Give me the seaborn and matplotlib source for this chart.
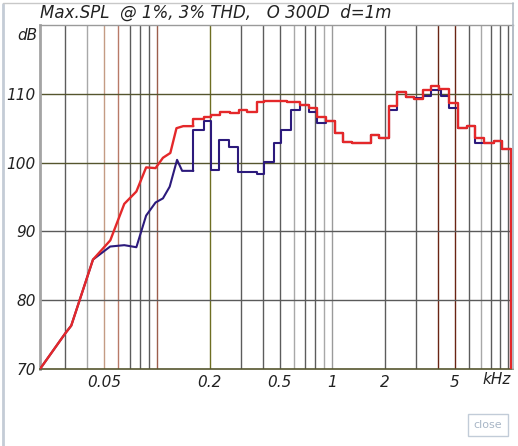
import matplotlib
matplotlib.use("Agg")
import matplotlib.pyplot as plt
import seaborn as sns
import pandas as pd

# --- data (frequency in kHz, level in dB) ---
# lower part is drawn as a polyline, upper part as 1/6-octave steps
red_lin_khz = [0.0215, 0.030, 0.0324, 0.0431, 0.0541, 0.065, 0.0762, 0.0866,
               0.098, 0.108, 0.119, 0.129, 0.141, 0.161]
red_lin_db = [70.0, 75.2, 76.3, 85.9, 88.7, 94.0, 95.8, 99.3,
              99.2, 100.7, 101.4, 105.0, 105.3, 105.3]

blue_lin_khz = [0.0215, 0.030, 0.0324, 0.0431, 0.054, 0.065, 0.0762, 0.0866,
                0.098, 0.108, 0.118, 0.130, 0.139, 0.161]
blue_lin_db = [70.0, 75.2, 76.3, 85.9, 87.8, 88.0, 87.7, 92.3,
               94.2, 94.8, 96.5, 100.4, 98.8, 98.8]

red_step_khz = [0.161, 0.185, 0.202, 0.228, 0.260, 0.293, 0.327, 0.369, 0.407,
                0.464, 0.553, 0.651, 0.735, 0.815, 0.916, 1.03, 1.15, 1.30,
                1.66, 1.84, 2.09, 2.33, 2.62, 2.93, 3.27, 3.65, 4.04, 4.64,
                5.18, 5.85, 6.51, 7.33, 8.32, 9.27, 10.37]
red_step_db = [106.4, 106.6, 106.9, 107.4, 107.2, 107.6, 107.4, 108.8, 109.0,
               108.9, 108.8, 108.4, 108.0, 106.6, 106.1, 104.3, 103.0, 102.8,
               104.0, 103.6, 108.2, 110.2, 109.6, 109.3, 110.6, 111.1, 110.7, 108.7,
               105.0, 105.3, 103.6, 102.9, 103.2, 102.0, 70.0]

blue_step_khz = [0.161, 0.184, 0.204, 0.225, 0.256, 0.290, 0.369, 0.407, 0.464,
                 0.511, 0.578, 0.651, 0.735, 0.815, 0.916, 1.03, 1.15, 1.30,
                 1.66, 1.84, 2.09, 2.33, 2.62, 2.93, 3.27, 3.65, 4.16, 4.64,
                 5.18, 5.85, 6.51, 7.33, 8.32, 9.27, 10.37]
blue_step_db = [104.8, 106.1, 98.9, 103.3, 102.2, 98.6, 98.3, 100.1, 102.8,
                104.7, 107.7, 108.3, 107.4, 105.8, 106.1, 104.3, 103.0, 102.8,
                104.0, 103.6, 107.6, 110.2, 109.6, 109.4, 109.7, 110.5, 109.7, 107.9,
                105.0, 105.3, 102.8, 102.9, 103.2, 102.0, 70.0]

grid_khz = [0.03, 0.04, 0.05, 0.06, 0.07, 0.08, 0.09, 0.1, 0.2, 0.3, 0.4, 0.5,
            0.6, 0.7, 0.8, 0.9, 1, 2, 3, 4, 5, 6, 7, 8, 9, 10]
grid_special = {0.04: "#a8a8a8", 0.05: "#c49c84", 0.06: "#b87a68", 0.1: "#9c5e4c",
                0.2: "#6e6e22", 0.6: "#a8a8a8", 0.9: "#a8a8a8", 1: "#9a9a9a",
                4: "#6a2414", 5: "#6a2414", 7: "#a8a8a8"}
xtick_khz = [0.05, 0.2, 0.5, 1, 2, 5]
xtick_labels = ["0.05", "0.2", "0.5", "1", "2", "5"]
ytick_db = [70, 80, 90, 100, 110]

title = "Max.SPL  @ 1%, 3% THD,   O 300D  d=1m"

RED = "#e4282a"
BLUE = "#2c1a7c"
TXT = "#222222"

sns.set_theme(style="white")
plt.rcParams["font.family"] = ["DejaVu Sans"]

fig = plt.figure(figsize=(5.18, 4.46), dpi=100)
ax = fig.add_axes([40 / 518, 1 - 369 / 446, 473 / 518, 344 / 446])
ax.set_xscale("log")
ax.set_xlim(0.0215, 10.7)
ax.set_ylim(70, 120)

# grid
for f in grid_khz:
    ax.axvline(f, color=grid_special.get(f, "#5c5c5c"), lw=1.0, zorder=1)
for d in [80, 90]:
    ax.axhline(d, color="#5a5a5a", lw=1.0, zorder=1)
for d in [100, 110]:
    ax.axhline(d, color="#55552e", lw=1.0, zorder=1)


def draw_curve(lin_f, lin_db, step_f, step_db, color, lw, z):
    lin = pd.DataFrame({"f": lin_f, "db": lin_db})
    sns.lineplot(data=lin, x="f", y="db", ax=ax, color=color, lw=lw,
                 estimator=None, sort=False, zorder=z)
    st = pd.DataFrame({"f": [lin_f[-1]] + step_f, "db": [lin_db[-1]] + step_db})
    sns.lineplot(data=st, x="f", y="db", ax=ax, color=color, lw=lw,
                 estimator=None, sort=False, drawstyle="steps-post", zorder=z)


draw_curve(blue_lin_khz, blue_lin_db, blue_step_khz, blue_step_db, BLUE, 1.5, 3)
draw_curve(red_lin_khz, red_lin_db, red_step_khz, red_step_db, RED, 1.7, 4)

# axes styling
ax.set_xlabel("")
ax.set_ylabel("")
ax.minorticks_off()
ax.set_xticks(xtick_khz)
ax.set_xticklabels(xtick_labels)
ax.set_yticks(ytick_db)
ax.set_yticklabels([str(v) for v in ytick_db])
ax.tick_params(axis="both", length=0, labelsize=11, labelcolor=TXT)
ax.tick_params(axis="x", pad=4)
ax.tick_params(axis="y", pad=3)
for lab in ax.get_xticklabels() + ax.get_yticklabels():
    lab.set_fontstyle("italic")

ax.spines["left"].set_color("#a4a4a4")
ax.spines["left"].set_linewidth(2.0)
ax.spines["bottom"].set_color("#55552e")
ax.spines["bottom"].set_linewidth(1.2)
ax.spines["top"].set_color("#9a9a9a")
ax.spines["top"].set_linewidth(1.0)
ax.spines["right"].set_color("#b4bcc6")
ax.spines["right"].set_linewidth(1.2)

ax.text(497 / 518, 1 - 380 / 446, "kHz", transform=fig.transFigure, ha="center",
        va="center", fontsize=11, style="italic", color=TXT)
ax.text(37 / 518, 1 - 36 / 446, "dB", transform=fig.transFigure, ha="right",
        va="center", fontsize=11, style="italic", color=TXT)
fig.text(40 / 518, 1 - 13 / 446, title, ha="left", va="center", fontsize=12,
         style="italic", color=TXT)

# window frame + close button
fig.add_artist(plt.Line2D([3 / 518, 3 / 518], [0, 1 - 4 / 446], color="#c4ccd6", lw=2))
fig.add_artist(plt.Line2D([3 / 518, 513 / 518], [1 - 3 / 446, 1 - 3 / 446], color="#c8c8c8", lw=1))
fig.add_artist(plt.Line2D([513 / 518, 513 / 518], [1 - 369 / 446, 1 - 3 / 446], color="#b4bcc6", lw=1.2))
fig.text(488 / 518, 1 - 425 / 446, "close", ha="center", va="center", fontsize=8,
         color="#a8b6c6",
         bbox=dict(boxstyle="square,pad=0.55", fc="white", ec="#c2ccd8", lw=1))

fig.savefig("out.png", dpi=100)
